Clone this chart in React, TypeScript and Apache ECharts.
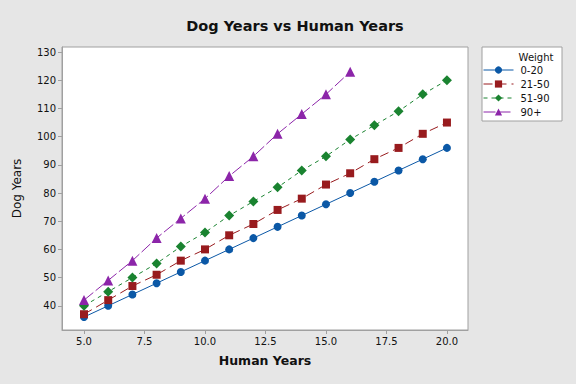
import React, { useEffect, useRef } from "react";
import * as echarts from "echarts";

const humanYears = [5, 6, 7, 8, 9, 10, 11, 12, 13, 14, 15, 16, 17, 18, 19, 20];
const small = [36, 40, 44, 48, 52, 56, 60, 64, 68, 72, 76, 80, 84, 88, 92, 96];
const medium = [37, 42, 47, 51, 56, 60, 65, 69, 74, 78, 83, 87, 92, 96, 101, 105];
const large = [40, 45, 50, 55, 61, 66, 72, 77, 82, 88, 93, 99, 104, 109, 115, 120];
const giant = [42, 49, 56, 64, 71, 78, 86, 93, 101, 108, 115, 123];
const xTicks = [5, 7.5, 10, 12.5, 15, 17.5, 20];
const yTicks = [40, 50, 60, 70, 80, 90, 100, 110, 120, 130];
const groups = ["0-20", "21-50", "51-90", "90+"];

const FONT = "DejaVu Sans";

export default function App() {
  const ref = useRef<HTMLDivElement>(null);
  useEffect(() => {
    const chart = echarts.init(ref.current!, null, { renderer: "svg" });
    const pair = (vals: number[]) => vals.map((v, i) => [humanYears[i], v]);
    const mk = (name: string, vals: number[], color: string, symbol: string, size: number, type: any) => ({
      name,
      type: "line",
      data: pair(vals),
      symbol,
      symbolSize: size,
      itemStyle: { color },
      lineStyle: { color, width: 1, type },
    });
    chart.setOption({
      animation: false,
      backgroundColor: "#e6e6e6",
      textStyle: { fontFamily: FONT },
      title: {
        text: "Dog Years vs Human Years",
        left: 290,
        textAlign: "center",
        top: 13,
        textStyle: { fontFamily: FONT, fontSize: 14.5, fontWeight: "bold", color: "#111" },
      },
      grid: {
        left: 62,
        right: 108,
        top: 47,
        bottom: 54,
        show: true,
        backgroundColor: "#ffffff",
        borderColor: "#a0a0a0",
        borderWidth: 1,
      },
      xAxis: {
        type: "value",
        min: 4.09,
        max: 20.87,
        name: "Human Years",
        nameLocation: "middle",
        nameGap: 24,
        nameTextStyle: { fontFamily: FONT, fontSize: 12.5, fontWeight: "bold", color: "#111" },
        splitLine: { show: false },
        axisLine: { show: true, lineStyle: { color: "#a0a0a0" } },
        axisTick: { show: true, length: 4, customValues: xTicks, lineStyle: { color: "#a0a0a0" } },
        axisLabel: {
          customValues: xTicks,
          formatter: (v: number) => v.toFixed(1),
          fontFamily: FONT,
          fontSize: 10,
          color: "#111",
          margin: 6,
        },
      },
      yAxis: {
        type: "value",
        min: 31.4,
        max: 131.8,
        name: "Dog Years",
        nameLocation: "middle",
        nameGap: 39,
        nameTextStyle: { fontFamily: FONT, fontSize: 12, color: "#111" },
        splitLine: { show: false },
        axisLine: { show: true, lineStyle: { color: "#a0a0a0" } },
        axisTick: { show: true, length: 4, customValues: yTicks, lineStyle: { color: "#a0a0a0" } },
        axisLabel: {
          customValues: yTicks,
          fontFamily: FONT,
          fontSize: 10,
          color: "#111",
          margin: 6,
        },
      },
      graphic: [
        {
          type: "rect",
          shape: { x: 482, y: 47, width: 80, height: 74 },
          style: { fill: "#ffffff", stroke: "#a0a0a0", lineWidth: 1 },
          z: 0,
        },
        {
          type: "text",
          x: 536,
          y: 57,
          style: {
            text: "Weight",
            fontFamily: FONT,
            fontSize: 10,
            fill: "#111",
            align: "center",
            verticalAlign: "middle",
          },
          z: 1,
        },
      ],
      legend: {
        orient: "vertical",
        left: 483,
        top: 65,
        itemWidth: 30,
        itemHeight: 9,
        itemGap: 4,
        padding: 0,
        data: groups,
        lineStyle: { width: 1 },
        textStyle: { fontFamily: FONT, fontSize: 10, color: "#111", padding: [0, 0, 0, 2] },
        z: 5,
      },
      series: [
        mk(groups[0], small, "#0b58a6", "circle", 8, "solid"),
        mk(groups[1], medium, "#981b1e", "rect", 8, [9, 5]),
        mk(groups[2], large, "#1a8330", "diamond", 10, [4, 4]),
        mk(groups[3], giant, "#8c25a9", "triangle", 10, [12, 3]),
      ],
    });
    return () => chart.dispose();
  }, []);
  return <div ref={ref} style={{ width: 576, height: 384, position: "absolute", left: 0, top: 0 }} />;
}
